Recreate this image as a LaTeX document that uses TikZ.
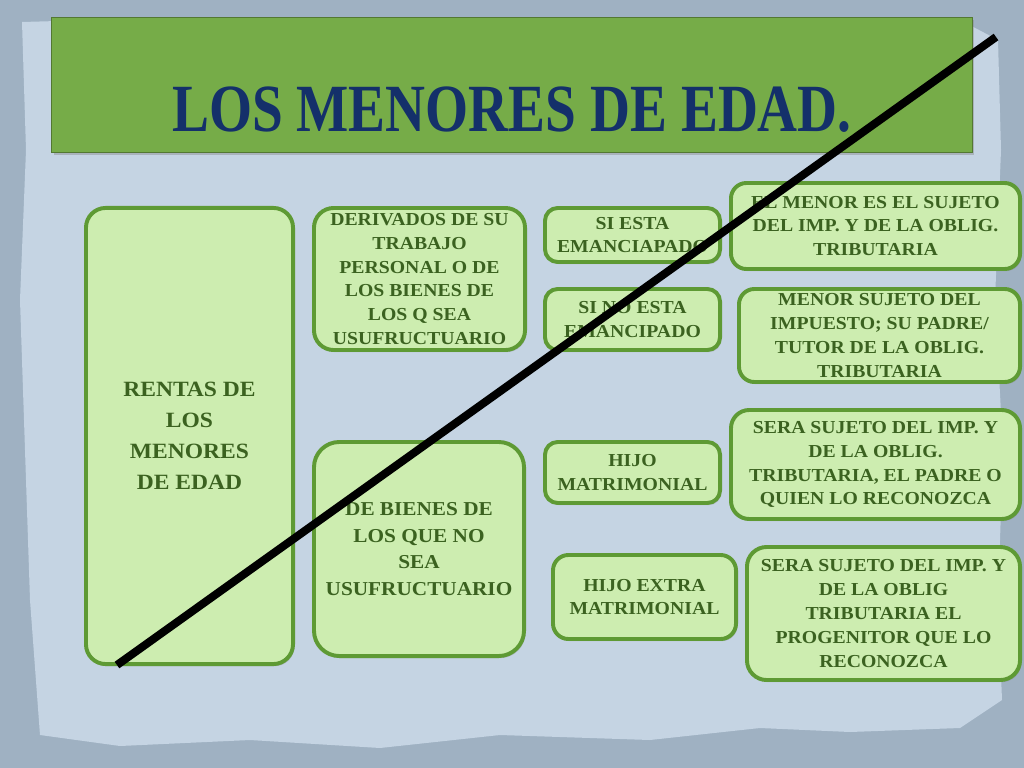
\documentclass[tikz,border=0pt]{standalone}
\usepackage{fontspec}
\setmainfont[FakeStretch=1.08]{Liberation Serif}
\newfontfamily\titulofont[FakeStretch=0.82]{Liberation Serif}
\usetikzlibrary{positioning,shapes,shadows}
\definecolor{fondo}{HTML}{9FB1C2}
\definecolor{papel}{HTML}{C5D4E3}
\definecolor{verdetitulo}{HTML}{76AC48}
\definecolor{azultitulo}{HTML}{14306A}
\definecolor{rellenocaja}{HTML}{CDEDB0}
\definecolor{bordecaja}{HTML}{5E9A34}
\definecolor{textocaja}{HTML}{3B6220}

\begin{document}
\begin{tikzpicture}[x=0.025cm, y=-0.025cm, every node/.style={font=\fontsize{13}{17}\selectfont\bfseries, text=textocaja},
  caja/.style={align=center, rectangle, draw=bordecaja, line width=2.8pt, fill=rellenocaja, rounded corners=9pt, inner sep=2pt, drop shadow={shadow xshift=1pt, shadow yshift=-1.5pt, opacity=.35}}]
\useasboundingbox (0,0) rectangle (1024,768);
% fondo y papel
\fill[fondo] (0,0) rectangle (1024,768);
\fill[papel] (22,22) -- (200,17) -- (420,22) -- (600,17) -- (800,21) -- (960,20) -- (998,40) -- (1001,150) -- (995,300) -- (1003,450) -- (998,600) -- (1002,700) -- (960,728) -- (850,732) -- (760,728) -- (650,740) -- (500,735) -- (380,748) -- (250,740) -- (120,746) -- (40,735) -- (30,600) -- (25,450) -- (20,300) -- (26,150) -- cycle;
% titulo
\node[rectangle, draw=verdetitulo!70!black, line width=.6pt, fill=verdetitulo, minimum width=23cm, minimum height=3.375cm, drop shadow={shadow xshift=1.5pt, shadow yshift=-2pt, opacity=.4}] (barra) at (512,84.5) {};
\node[font=\titulofont\fontsize{48}{50}\selectfont\bfseries, text=azultitulo] (titulo) at (512,110) {LOS MENORES DE EDAD.};
% columna izquierda
\node[caja, rounded corners=14pt, minimum width=5.175cm, minimum height=11.4cm, font=\fontsize{15.5}{22}\selectfont\bfseries] (rentas) at (189.5,436) {RENTAS DE\\LOS\\MENORES\\DE EDAD};
\node[caja, rounded corners=14pt, minimum width=5.275cm, minimum height=3.55cm] (derivados) at (419.5,279) {DERIVADOS DE SU\\TRABAJO\\PERSONAL O DE\\LOS BIENES DE\\LOS Q SEA\\USUFRUCTUARIO};
\node[caja, rounded corners=18pt, minimum width=5.25cm, minimum height=5.35cm, font=\fontsize{14}{19}\selectfont\bfseries] (debienes) at (419,549) {DE BIENES DE\\LOS QUE NO\\SEA\\USUFRUCTUARIO};
% columna del medio
\node[caja, minimum width=4.375cm, minimum height=1.35cm] (siesta) at (632.5,235) {SI ESTA\\EMANCIAPADO};
\node[caja, minimum width=4.375cm, minimum height=1.525cm] (sinoesta) at (632.5,319.5) {SI NO ESTA\\EMANCIPADO};
\node[caja, minimum width=4.375cm, minimum height=1.525cm] (hijo) at (632.5,472.5) {HIJO\\MATRIMONIAL};
\node[caja, rounded corners=11pt, minimum width=4.575cm, minimum height=2.1cm] (hijoextra) at (644.5,597) {HIJO EXTRA\\MATRIMONIAL};
% columna derecha
\node[caja, rounded corners=11pt, minimum width=7.225cm, minimum height=2.15cm] (elmenor) at (875.5,226) {EL MENOR ES EL SUJETO\\DEL IMP. Y DE LA OBLIG.\\TRIBUTARIA};
\node[caja, rounded corners=11pt, minimum width=7.025cm, minimum height=2.325cm] (menorsujeto) at (879.5,335.5) {MENOR SUJETO DEL\\IMPUESTO; SU PADRE/\\TUTOR DE LA OBLIG.\\TRIBUTARIA};
\node[caja, rounded corners=13pt, minimum width=7.225cm, minimum height=2.725cm] (sera1) at (875.5,464.5) {SERA SUJETO DEL IMP. Y\\DE LA OBLIG.\\TRIBUTARIA, EL PADRE O\\QUIEN LO RECONOZCA};
\node[caja, rounded corners=14pt, minimum width=6.825cm, minimum height=3.325cm] (sera2) at (883.5,613.5) {SERA SUJETO DEL IMP. Y\\DE LA OBLIG\\TRIBUTARIA EL\\PROGENITOR QUE LO\\RECONOZCA};
% tachado
\coordinate (tachaA) at (117,665);
\coordinate (tachaB) at (996,37);
\draw[line width=5.7pt] (tachaA) -- (tachaB);
\end{tikzpicture}
\end{document}
